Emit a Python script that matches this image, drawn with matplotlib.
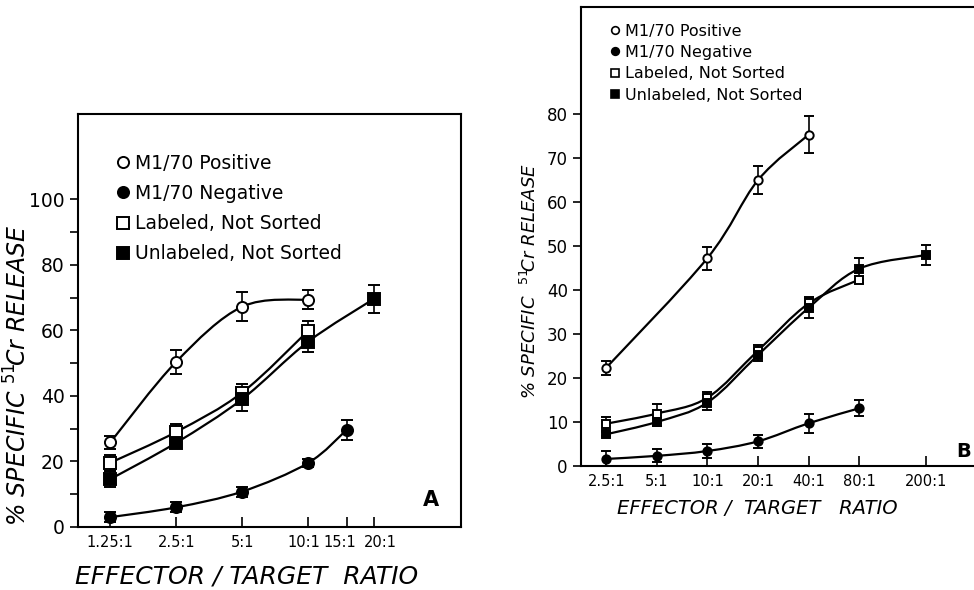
import numpy as np
import matplotlib
matplotlib.use('Agg')
import matplotlib.pyplot as plt
import matplotlib.transforms as mtransforms
from matplotlib.path import Path
from matplotlib.patches import PathPatch
from matplotlib.lines import Line2D

# panel A
a_ratio = [1.25, 2.5, 5, 10, 15, 20]
a_ticklabels = ['1.25:1', '2.5:1', '5:1', '10:1', '15:1', '20:1']
a_pos_x = [1.25, 2.5, 5, 10]
a_pos_y = [25.8, 50.4, 67.2, 69.4]
a_pos_err = [2.0, 3.6, 4.4, 3.0]
a_neg_x = [1.25, 2.5, 5, 10, 15]
a_neg_y = [3.0, 6.0, 10.8, 19.5, 29.6]
a_neg_err = [1.5, 1.5, 1.5, 1.2, 3.0]
a_lab_x = [1.25, 2.5, 5, 10]
a_lab_y = [19.6, 29.0, 41.0, 59.8]
a_lab_err = [2.5, 2.5, 2.5, 3.0]
a_unl_x = [1.25, 2.5, 5, 10, 20]
a_unl_y = [14.6, 25.7, 39.0, 56.5, 69.6]
a_unl_err = [2.5, 1.5, 3.5, 3.0, 4.2]

# panel B
b_ratio = [2.5, 5, 10, 20, 40, 80, 200]
b_ticklabels = ['2.5:1', '5:1', '10:1', '20:1', '40:1', '80:1', '200:1']
b_pos_x = [2.5, 10, 20, 40]
b_pos_y = [22.3, 47.2, 64.9, 75.2]
b_pos_err = [1.6, 2.6, 3.1, 4.2]
b_neg_x = [2.5, 5, 10, 20, 40, 80]
b_neg_y = [1.6, 2.3, 3.4, 5.6, 9.7, 13.1]
b_neg_err = [1.7, 1.5, 1.5, 1.5, 2.2, 1.8]
b_lab_x = [2.5, 5, 10, 20, 40, 80]
b_lab_y = [9.6, 11.9, 15.5, 26.2, 36.9, 42.3]
b_lab_err = [1.6, 2.2, 1.3, 1.2, 1.5, 0.8]
b_unl_x = [2.5, 5, 10, 20, 40, 80, 200]
b_unl_y = [7.2, 10.0, 14.4, 25.2, 35.9, 44.8, 47.9]
b_unl_err = [0.5, 0.9, 1.6, 1.3, 2.2, 2.4, 2.3]

legend_labels = ['M1/70 Positive', 'M1/70 Negative',
                 'Labeled, Not Sorted', 'Unlabeled, Not Sorted']
styles = [('o', 'white'), ('o', 'black'), ('s', 'white'), ('s', 'black')]


def smooth_path(xs, ys):
    '''Catmull-Rom curve through the points, done in log-x space'''
    pts = np.column_stack([np.log10(xs), ys])
    n = len(pts)
    verts = [pts[0]]
    codes = [Path.MOVETO]
    for i in range(n - 1):
        p0 = pts[max(i - 1, 0)]
        p1 = pts[i]
        p2 = pts[i + 1]
        p3 = pts[min(i + 2, n - 1)]
        verts += [p1 + (p2 - p0) / 6, p2 - (p3 - p1) / 6, p2]
        codes += [Path.CURVE4] * 3
    verts = np.array(verts)
    verts[:, 0] = 10 ** verts[:, 0]
    return Path(verts, codes)


def draw_panel(ax, series, ms, cap, lw):
    for (xs, ys, err), (mk, fc) in zip(series, styles):
        ax.add_patch(PathPatch(smooth_path(xs, ys), fill=False,
                               lw=lw, ec='black', zorder=2))
        ax.errorbar(xs, ys, yerr=err, fmt=mk, mfc=fc, mec='black',
                    ms=ms, mew=1.4, ecolor='black', elinewidth=1.2,
                    capsize=cap, capthick=1.2, zorder=3)


fig = plt.figure(figsize=(9.74, 5.90), dpi=100)

# ---- A ----
ax1 = fig.add_axes([0.0801, 0.1068, 0.3932, 0.700])
draw_panel(ax1, [(a_pos_x, a_pos_y, a_pos_err), (a_neg_x, a_neg_y, a_neg_err),
                 (a_lab_x, a_lab_y, a_lab_err), (a_unl_x, a_unl_y, a_unl_err)],
           ms=8, cap=4, lw=1.6)
ax1.set_xscale('log')
ax1.set_xlim(0.89, 50)
ax1.set_ylim(0, 126)
ax1.set_xticks(a_ratio)
ax1.set_xticklabels(a_ticklabels, fontsize=10.5)
ax1.xaxis.set_minor_locator(matplotlib.ticker.NullLocator())
ax1.set_yticks(np.arange(0, 101, 20))
ax1.set_yticks(np.arange(10, 100, 20), minor=True)
ax1.tick_params(axis='y', which='both', direction='out', length=6,
                width=1.2, labelsize=13.5)
ax1.tick_params(axis='x', direction='in', length=7, width=1.2, pad=6)
for s in ax1.spines.values():
    s.set_linewidth(1.5)
ax1.set_xlabel('EFFECTOR / TARGET  RATIO', fontsize=18, style='italic')
ax1.xaxis.set_label_coords(0.439, -0.09)
ax1.set_ylabel('% SPECIFIC $^{51}\\!$Cr RELEASE', fontsize=17,
               style='italic')
ax1.yaxis.set_label_coords(-0.12, 0.367)
ax1.text(0.90, 0.05, 'A', transform=ax1.transAxes, fontsize=15,
         fontweight='bold')
handles = [Line2D([], [], ls='none', marker=m, mfc=fc, mec='black',
                  ms=8, mew=1.4) for m, fc in styles]
ax1.legend(handles, legend_labels, loc='upper left',
           bbox_to_anchor=(0.05, 0.945), frameon=False, fontsize=13.5,
           handletextpad=0.1, labelspacing=0.6, handlelength=1.0)

# the 10:1 / 15:1 / 20:1 labels sit close together: spread them a little
for lbl, dx in zip(ax1.get_xticklabels(), [0, 0, 0, -3, -5, 5]):
    lbl.set_transform(lbl.get_transform() +
                      mtransforms.ScaledTranslation(dx / 72, 0,
                                                    fig.dpi_scale_trans))

# ---- B ----
ax2 = fig.add_axes([0.5965, 0.2102, 0.41, 0.778])
draw_panel(ax2, [(b_pos_x, b_pos_y, b_pos_err), (b_neg_x, b_neg_y, b_neg_err),
                 (b_lab_x, b_lab_y, b_lab_err), (b_unl_x, b_unl_y, b_unl_err)],
           ms=6, cap=3.5, lw=1.6)
ax2.set_xscale('log')
ax2.set_xlim(1.77, 420)
ax2.set_ylim(0, 104.2)
ax2.set_xticks(b_ratio)
ax2.set_xticklabels(b_ticklabels, fontsize=10.5)
ax2.xaxis.set_minor_locator(matplotlib.ticker.NullLocator())
ax2.set_yticks(np.arange(0, 81, 10))
ax2.tick_params(axis='y', direction='out', length=6, width=1.2,
                labelsize=12)
ax2.tick_params(axis='x', direction='in', length=7, width=1.2, pad=6)
for s in ax2.spines.values():
    s.set_linewidth(1.5)
ax2.set_xlabel('EFFECTOR /  TARGET   RATIO', fontsize=14, style='italic')
ax2.xaxis.set_label_coords(0.442, -0.072)
ax2.set_ylabel('% SPECIFIC  $^{51}\\!$Cr RELEASE', fontsize=13,
               style='italic')
ax2.yaxis.set_label_coords(-0.103, 0.403)
ax2.text(0.94, 0.02, 'B', transform=ax2.transAxes, fontsize=14,
         fontweight='bold')
handles = [Line2D([], [], ls='none', marker=m, mfc=fc, mec='black',
                  ms=5.5, mew=1.2) for m, fc in styles]
ax2.legend(handles, legend_labels, loc='upper left',
           bbox_to_anchor=(0.03, 0.995), frameon=False, fontsize=11.5,
           handletextpad=0.1, labelspacing=0.4, handlelength=1.0)

fig.savefig('out.png', dpi=100)
